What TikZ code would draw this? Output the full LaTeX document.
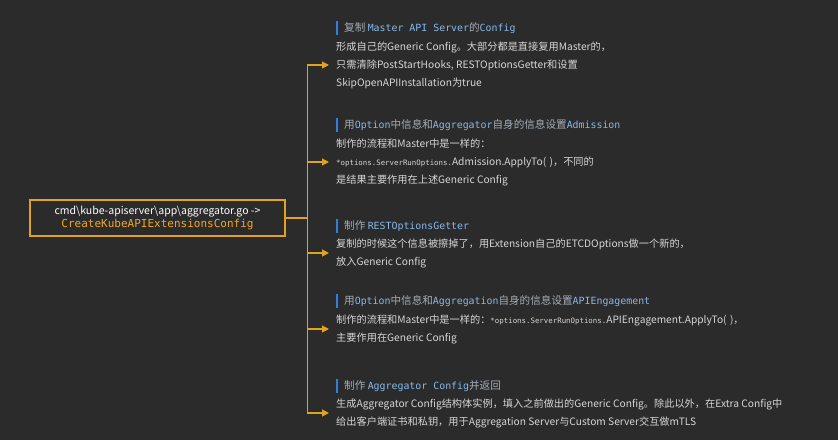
\documentclass[tikz,border=0pt]{standalone}
\usepackage{fontspec}
\setmainfont{Noto Sans CJK SC}
\setmonofont{DejaVu Sans Mono}
\usetikzlibrary{arrows.meta}
\definecolor{bg}{HTML}{2B2B2B}
\definecolor{org}{HTML}{E3A21C}
\definecolor{orgtxt}{HTML}{F2A81E}
\definecolor{hgray}{HTML}{A3ACB8}
\definecolor{hblue}{HTML}{86B8EA}
\definecolor{bodyc}{HTML}{D6D6D6}
\definecolor{barc}{HTML}{2F7FE0}
\newcommand{\hc}[1]{\textcolor{hgray}{#1}}
\newcommand{\hm}[1]{\textcolor{hblue}{\fontsize{9.9}{12}\selectfont\ttfamily #1}}
\newcommand{\bmono}[1]{{\fontsize{7.4}{18}\selectfont\ttfamily #1}}
\tikzset{
  conn/.style={draw=org, line width=1.1pt, -{Triangle[length=7pt,width=7pt]}},
  bodytxt/.style={anchor=west, inner sep=0pt, align=left, text=bodyc, font=\fontsize{10.2}{18}\selectfont},
  headtxt/.style={anchor=west, inner sep=0pt, align=left, font=\fontsize{10.6}{12}\selectfont},
  hbar/.style={fill=barc, draw=none},
  mainbox/.style={draw=org, line width=1.2pt, fill=bg, minimum width=255pt, minimum height=36pt, align=center, inner sep=0pt, font=\fontsize{10.5}{14}\selectfont}
}
\begin{document}
\begin{tikzpicture}[x=1pt,y=-1pt]
\path[fill=bg] (0,0) rectangle (838,440);
\useasboundingbox (0,0) rectangle (838,440);

\node[mainbox] (box) at (157.5,218) {\textcolor{white}{cmd\textbackslash kube-apiserver\textbackslash app\textbackslash aggregator.go ->}\\[-1pt]\textcolor{orgtxt}{\fontsize{11}{14}\selectfont\ttfamily CreateKubeAPIExtensionsConfig}};

% headings
\fill[hbar] (336,21) rectangle (338,35);
\node[headtxt] (h1) at (344,28) {\hc{复制} \hm{Master API Server}\hc{的}\hm{Config}};
\fill[hbar] (336,118) rectangle (338,132);
\node[headtxt] (h2) at (344,125) {\hc{用}\hm{Option}\hc{中信息和}\hm{Aggregator}\hc{自身的信息设置}\hm{Admission}};
\fill[hbar] (336,219) rectangle (338,233);
\node[headtxt] (h3) at (344,226) {\hc{制作} \hm{RESTOptionsGetter}};
\fill[hbar] (336,294) rectangle (338,308);
\node[headtxt] (h4) at (344,301) {\hc{用}\hm{Option}\hc{中信息和}\hm{Aggregation}\hc{自身的信息设置}\hm{APIEngagement}};
\fill[hbar] (336,379) rectangle (338,393);
\node[headtxt] (h5) at (344,386) {\hc{制作} \hm{Aggregator Config}\hc{并返回}};

% bodies
\node[bodytxt] (b1) at (336,65) {形成自己的Generic Config。大部分都是直接复用Master的，\\只需清除PostStartHooks, RESTOptionsGetter和设置\\SkipOpenAPIInstallation为true};
\node[bodytxt] (b2) at (336,162) {制作的流程和Master中是一样的：\\\bmono{*options.ServerRunOptions.}Admission.ApplyTo(\,\,)，不同的\\是结果主要作用在上述Generic Config};
\node[bodytxt] (b3) at (336,253) {复制的时候这个信息被擦掉了，用Extension自己的ETCDOptions做一个新的，\\放入Generic Config};
\node[bodytxt] (b4) at (336,329) {制作的流程和Master中是一样的：\bmono{*options.ServerRunOptions.}APIEngagement.ApplyTo(\,\,)，\\主要作用在Generic Config};
\node[bodytxt] (b5) at (336,413) {生成Aggregator Config结构体实例，填入之前做出的Generic Config。除此以外，在Extra Config中\\给出客户端证书和私钥，用于Aggregation Server与Custom Server交互做mTLS};

% connectors
\coordinate (t1) at ([xshift=-7pt]b1.west);
\coordinate (t2) at ([xshift=-7pt]b2.west);
\coordinate (t3) at ([xshift=-7pt]b3.west);
\coordinate (t4) at ([xshift=-7pt]b4.west);
\coordinate (t5) at ([xshift=-7pt]b5.west);
\foreach \t in {t1,t2,t3,t4,t5}{
  \draw[conn] (box.east) -- ++(22,0) |- (\t);
}
\end{tikzpicture}
\end{document}
